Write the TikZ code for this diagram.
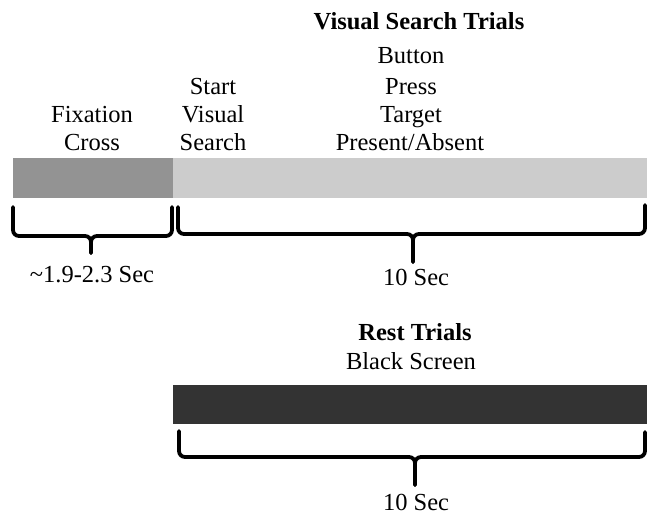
\documentclass[tikz,border=0pt]{standalone}
\usepackage{fontspec}
\setmainfont{Liberation Serif}
\begin{document}
\begin{tikzpicture}[x=1pt,y=-1pt,
  txt/.style={anchor=base,inner sep=0pt,font=\fontsize{24.5}{29}\selectfont},
  ttl/.style={txt,font=\fontsize{24.5}{29}\selectfont\bfseries},
  brace/.style={line width=3.8pt,rounded corners=6pt,line join=round,line cap=round}]
\useasboundingbox (0,0) rectangle (647,514);
% bars
\fill[fill={rgb,255:red,147;green,147;blue,147}] (13,158) rectangle (173,198);
\fill[fill={rgb,255:red,204;green,204;blue,204}] (173,158) rectangle (647,198);
\fill[fill={rgb,255:red,51;green,51;blue,51}] (173,385) rectangle (647,424);
% texts
\node[ttl] (vst) at (419,29) {Visual Search Trials};
\node[txt] (button) at (411,63) {Button};
\node[txt] (press) at (411,94) {Press};
\node[txt] (target) at (411,122) {Target};
\node[txt] (pa) at (410,150) {Present/Absent};
\node[txt] (start) at (213,94) {Start};
\node[txt] (visual) at (213,122) {Visual};
\node[txt] (search) at (213,150) {Search};
\node[txt] (fix) at (92,122) {Fixation};
\node[txt] (cross) at (92,150) {Cross};
\node[txt] (t1) at (92,282) {\textasciitilde1.9-2.3 Sec};
\node[txt] (t2) at (416,285) {10 Sec};
\node[ttl] (rest) at (415,340) {Rest Trials};
\node[txt] (black) at (411,369) {Black Screen};
\node[txt] (t3) at (416,510) {10 Sec};
% braces
\draw[brace] (13,207) -- (13,236) -- (91,236) -- (91,253);
\draw[brace] (172,207) -- (172,236) -- (91,236) -- (91,253);
\draw[brace] (178,207) -- (178,234) -- (413,234) -- (413,262);
\draw[brace] (645,205) -- (645,234) -- (413,234) -- (413,262);
\draw[brace] (179,431) -- (179,457) -- (415,457) -- (415,485);
\draw[brace] (645,432) -- (645,457) -- (415,457) -- (415,485);
\end{tikzpicture}
\end{document}
